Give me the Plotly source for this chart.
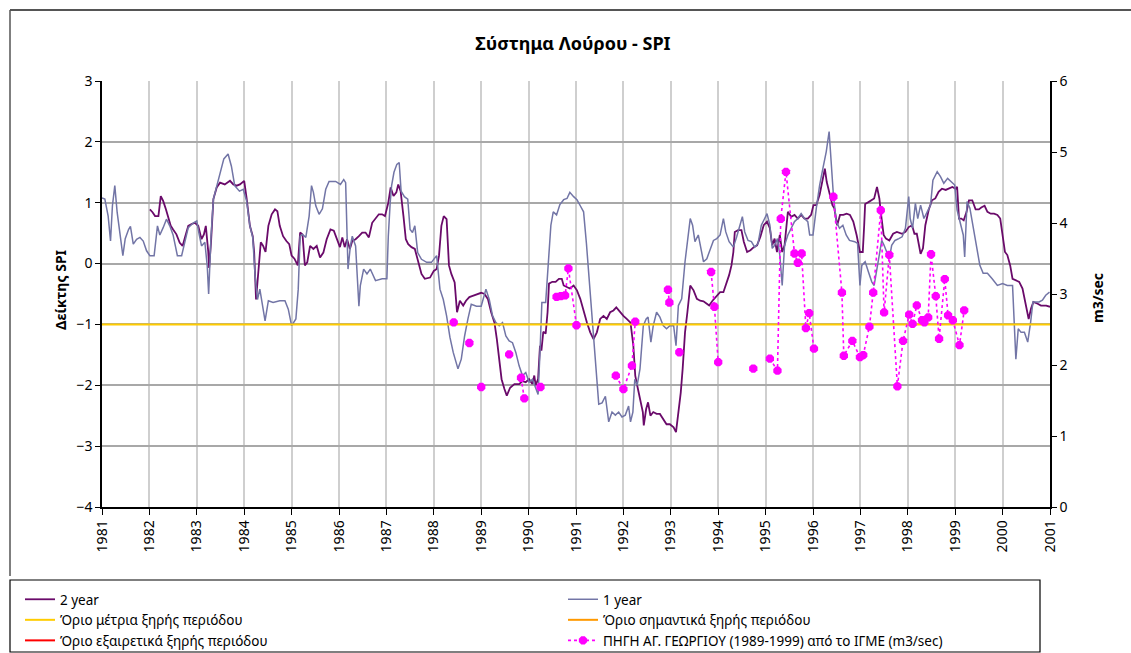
import plotly.graph_objects as go

# ---------------- data ----------------
year1_t = [1981.00,1981.06,1981.13,1981.18,1981.22,1981.27,1981.32,1981.38,1981.44,1981.49,1981.56,1981.60,1981.66,1981.73,1981.80,1981.87,1981.94,
           1982.01,1982.10,1982.17,1982.22,1982.29,1982.36,1982.43,1982.50,1982.59,1982.68,1982.75,1982.82,1982.93,
           1983.00,1983.05,1983.10,1983.17,1983.22,1983.25,1983.30,1983.35,1983.42,1983.49,1983.57,1983.66,1983.73,1983.80,1983.90,1983.98,
           1984.05,1984.12,1984.18,1984.23,1984.28,1984.33,1984.40,1984.44,1984.51,1984.61,1984.75,1984.86,1984.93,
           1985.00,1985.09,1985.14,1985.18,1985.23,1985.30,1985.37,1985.42,1985.46,1985.51,1985.58,1985.65,1985.72,1985.79,1985.93,
           1986.03,1986.10,1986.14,1986.17,1986.19,1986.24,1986.28,1986.35,1986.42,1986.45,1986.52,1986.59,1986.66,1986.77,1986.91,
           1987.01,1987.04,1987.08,1987.11,1987.16,1987.22,1987.27,1987.31,1987.38,1987.45,1987.50,1987.55,1987.60,1987.66,1987.74,1987.85,1987.95,
           1988.06,1988.13,1988.20,1988.27,1988.34,1988.41,1988.51,1988.58,1988.65,1988.72,1988.79,1988.90,
           1989.00,1989.10,1989.17,1989.24,1989.31,1989.38,1989.45,1989.52,1989.59,1989.66,1989.73,1989.80,1989.87,1989.94,
           1990.01,1990.08,1990.15,1990.20,1990.24,1990.28,1990.36,1990.42,1990.47,1990.52,1990.59,1990.66,1990.74,1990.81,1990.87,1990.95,
           1991.02,1991.09,1991.16,1991.22,1991.27,1991.34,1991.41,1991.48,1991.55,1991.62,1991.69,1991.76,1991.83,1991.90,1991.97,
           1992.04,1992.11,1992.15,1992.20,1992.24,1992.29,1992.35,1992.42,1992.48,1992.52,1992.58,1992.63,1992.70,1992.77,1992.84,1992.91,1992.98,
           1993.06,1993.11,1993.16,1993.23,1993.30,1993.35,1993.41,1993.46,1993.51,1993.58,1993.63,1993.69,1993.76,1993.83,1993.90,1993.97,
           1994.04,1994.11,1994.16,1994.23,1994.32,1994.39,1994.46,1994.51,1994.56,1994.63,1994.70,1994.77,1994.84,1994.91,1994.98,
           1995.03,1995.09,1995.14,1995.19,1995.25,1995.30,1995.33,1995.35,1995.40,1995.47,1995.54,1995.61,1995.68,1995.75,1995.82,1995.89,1995.93,
           1996.00,1996.07,1996.14,1996.21,1996.28,1996.34,1996.38,1996.43,1996.49,1996.56,1996.63,1996.70,1996.77,1996.88,1996.94,1996.99,
           1997.03,1997.10,1997.17,1997.24,1997.29,1997.35,1997.42,1997.45,1997.50,1997.56,1997.61,1997.66,1997.73,1997.81,1997.88,1997.95,
           1998.02,1998.05,1998.10,1998.16,1998.21,1998.27,1998.34,1998.41,1998.48,1998.53,1998.62,1998.69,1998.76,1998.84,1998.94,1998.99,
           1999.04,1999.11,1999.17,1999.20,1999.25,1999.31,1999.38,1999.45,1999.52,1999.59,1999.68,1999.78,1999.89,
           2000.00,2000.10,2000.21,2000.24,2000.28,2000.33,2000.39,2000.46,2000.53,2000.59,2000.64,2000.71,2000.77,2000.84,2000.91,2000.99]
year1_v = [1.08,1.06,0.78,0.37,0.95,1.28,0.84,0.45,0.13,0.41,0.56,0.61,0.32,0.40,0.43,0.37,0.21,
           0.13,0.13,0.62,0.47,0.59,0.73,0.62,0.47,0.13,0.13,0.36,0.59,0.67,
           0.70,0.48,0.29,0.35,-0.04,-0.50,0.45,1.06,1.28,1.50,1.72,1.80,1.60,1.28,1.19,1.22,
           1.03,0.62,0.43,-0.20,-0.59,-0.42,-0.78,-0.94,-0.61,-0.64,-0.61,-0.61,-0.75,
           -1.02,-0.91,-0.42,0.45,0.48,0.43,0.78,1.28,1.17,0.95,0.81,0.90,1.22,1.35,1.35,
           1.30,1.38,1.33,0.62,-0.09,0.29,0.45,0.29,-0.70,-0.36,-0.09,-0.17,-0.09,-0.28,-0.25,
           -0.25,0.45,1.00,1.28,1.50,1.63,1.66,1.19,1.10,1.06,0.56,0.51,0.62,0.18,0.07,0.02,0.02,
           0.13,-0.42,-0.59,-0.86,-1.21,-1.46,-1.73,-1.57,-1.19,-0.91,-0.67,-0.70,
           -0.70,-0.42,-0.59,-0.86,-0.97,-1.02,-0.97,-1.19,-1.27,-1.30,-1.46,-1.68,-1.84,-1.79,
           -1.95,-1.90,-2.04,-2.15,-1.46,-0.64,-0.64,0.03,0.63,0.85,0.80,0.97,1.05,1.07,1.17,1.10,
           1.05,0.95,0.85,0.33,-0.19,-1.02,-1.73,-2.31,-2.29,-2.18,-2.60,-2.44,-2.49,-2.44,-2.52,
           -2.49,-2.34,-2.60,-2.44,-1.90,-2.00,-1.73,-1.02,-0.91,-0.88,-1.29,-1.02,-0.80,-0.88,-1.02,-1.07,-1.02,
           -1.02,-1.35,-0.69,-0.58,0.03,0.36,0.74,0.63,0.36,0.47,0.25,0.03,0.08,0.22,0.38,0.41,
           0.47,0.74,0.52,0.36,0.27,0.44,0.63,0.77,0.52,0.38,0.36,0.27,0.33,0.63,0.74,
           0.82,0.63,0.25,0.30,0.41,0.14,-0.19,-0.36,0.30,0.47,0.58,0.69,0.74,0.82,0.74,0.69,0.47,
           0.47,0.91,1.29,1.57,1.84,2.17,1.73,1.13,0.69,0.58,0.63,0.47,0.38,0.36,0.33,-0.36,
           -0.03,0.03,-0.14,-0.30,-0.36,-0.08,0.30,0.38,0.30,0.19,0.08,0.30,0.38,0.41,0.44,0.58,
           1.10,0.74,0.58,0.99,0.74,0.96,0.74,0.85,0.96,1.37,1.51,1.43,1.32,1.40,1.32,1.29,
           0.88,0.63,0.47,0.11,1.02,0.91,0.58,0.25,-0.03,-0.16,-0.16,-0.25,-0.36,
           -0.33,-0.36,-0.36,-1.02,-1.57,-1.07,-1.13,-1.13,-1.29,-0.97,-0.63,-0.63,-0.63,-0.60,-0.52,-0.47]

year2_t = [1982.01,1982.07,1982.12,1982.19,1982.24,1982.29,1982.35,1982.40,1982.45,1982.50,1982.57,1982.64,1982.70,1982.75,1982.82,1982.89,1982.96,
           1983.03,1983.10,1983.15,1983.19,1983.24,1983.26,1983.30,1983.35,1983.42,1983.49,1983.59,1983.70,1983.77,1983.84,1983.91,
           1984.00,1984.05,1984.12,1984.18,1984.21,1984.25,1984.30,1984.35,1984.40,1984.45,1984.51,1984.58,1984.65,1984.70,1984.75,1984.82,1984.89,1984.95,
           1985.00,1985.06,1985.13,1985.18,1985.23,1985.28,1985.33,1985.39,1985.46,1985.53,1985.60,1985.67,1985.74,1985.82,1985.89,1985.96,
           1986.02,1986.07,1986.12,1986.17,1986.23,1986.28,1986.35,1986.42,1986.49,1986.56,1986.63,1986.70,1986.77,1986.84,1986.91,1986.97,
           1987.04,1987.09,1987.15,1987.21,1987.25,1987.30,1987.36,1987.41,1987.46,1987.53,1987.60,1987.67,1987.74,1987.81,1987.92,
           1988.00,1988.06,1988.11,1988.16,1988.21,1988.27,1988.32,1988.37,1988.44,1988.49,1988.55,1988.62,1988.68,1988.75,1988.82,1988.91,
           1989.00,1989.07,1989.14,1989.21,1989.28,1989.33,1989.38,1989.43,1989.49,1989.54,1989.61,1989.70,1989.80,1989.87,1989.94,
           1990.01,1990.08,1990.12,1990.15,1990.20,1990.24,1990.27,1990.31,1990.36,1990.40,1990.43,1990.50,1990.57,1990.64,1990.70,1990.74,1990.81,1990.87,1990.95,
           1991.02,1991.09,1991.16,1991.23,1991.30,1991.37,1991.44,1991.51,1991.58,1991.65,1991.72,1991.79,1991.85,1991.93,
           1992.00,1992.07,1992.15,1992.21,1992.25,1992.29,1992.35,1992.41,1992.43,1992.48,1992.52,1992.57,1992.63,1992.70,1992.77,1992.84,1992.91,1992.98,
           1993.06,1993.11,1993.16,1993.21,1993.25,1993.30,1993.35,1993.41,1993.48,1993.55,1993.62,1993.69,1993.76,1993.81,1993.88,1993.97,
           1994.04,1994.11,1994.16,1994.23,1994.28,1994.32,1994.35,1994.42,1994.49,1994.54,1994.61,1994.68,1994.75,1994.82,1994.89,1994.96,
           1995.03,1995.09,1995.14,1995.19,1995.24,1995.30,1995.35,1995.40,1995.47,1995.54,1995.61,1995.68,1995.75,1995.82,1995.89,1995.96,
           1996.01,1996.07,1996.14,1996.20,1996.25,1996.29,1996.35,1996.41,1996.45,1996.51,1996.57,1996.64,1996.71,1996.78,1996.85,1996.92,1996.99,
           1997.05,1997.08,1997.10,1997.17,1997.24,1997.29,1997.35,1997.40,1997.43,1997.49,1997.54,1997.61,1997.69,1997.77,1997.88,1997.95,
           1998.02,1998.09,1998.14,1998.19,1998.27,1998.32,1998.37,1998.44,1998.51,1998.58,1998.65,1998.72,1998.80,1998.87,1998.94,
           1999.01,1999.04,1999.08,1999.13,1999.18,1999.24,1999.29,1999.36,1999.43,1999.50,1999.55,1999.62,1999.68,1999.75,1999.82,1999.89,1999.95,
           2000.00,2000.05,2000.10,2000.16,2000.21,2000.28,2000.35,2000.42,2000.49,2000.55,2000.60,2000.65,2000.74,2000.81,2000.92,2001.00]
year2_v = [0.89,0.84,0.78,0.78,1.11,1.03,0.89,0.73,0.62,0.56,0.48,0.34,0.29,0.43,0.62,0.65,0.67,
           0.62,0.40,0.48,0.62,0.21,-0.07,0.35,1.06,1.25,1.33,1.30,1.36,1.30,1.28,1.30,
           1.36,1.08,0.62,0.45,0.19,-0.59,-0.14,0.35,0.29,0.19,0.62,0.81,0.89,0.86,0.62,0.45,0.37,0.32,
           0.13,0.08,-0.03,0.51,0.48,-0.03,0.02,0.29,0.24,0.29,0.10,0.18,0.40,0.56,0.54,0.40,
           0.27,0.43,0.27,0.40,0.24,0.37,0.40,0.45,0.51,0.51,0.43,0.67,0.75,0.81,0.81,0.78,
           1.00,1.25,1.11,1.17,1.30,1.19,0.78,0.40,0.32,0.27,0.24,0.02,-0.17,-0.25,-0.23,
           -0.12,-0.09,0.13,0.62,0.78,0.73,-0.03,-0.17,-0.31,-0.80,-0.61,-0.69,-0.61,-0.55,-0.53,-0.50,
           -0.48,-0.50,-0.58,-0.80,-0.97,-1.24,-1.62,-1.90,-2.06,-2.17,-2.04,-1.98,-1.98,-1.93,-1.95,
           -1.90,-1.98,-1.84,-2.00,-1.90,-1.35,-1.43,-1.12,-1.15,-0.80,-0.33,-0.30,-0.30,-0.25,-0.25,-0.36,-0.38,-0.41,-0.36,
           -0.44,-0.58,-0.80,-0.97,-1.13,-1.24,-1.13,-0.91,-0.86,-0.91,-0.80,-0.77,-0.72,-0.80,
           -0.86,-0.91,-0.97,-1.35,-1.84,-2.00,-2.22,-2.44,-2.66,-2.39,-2.28,-2.50,-2.44,-2.47,-2.47,-2.55,-2.64,-2.64,
           -2.69,-2.77,-2.44,-2.12,-1.73,-1.13,-0.80,-0.36,-0.44,-0.58,-0.61,-0.62,-0.66,-0.69,-0.61,-0.53,
           -0.47,-0.47,-0.36,-0.19,-0.03,0.19,0.52,0.55,0.55,0.36,0.19,0.22,0.27,0.30,0.44,0.63,
           0.69,0.58,0.30,0.41,0.19,0.47,0.19,0.30,0.85,0.77,0.80,0.74,0.80,0.74,0.74,0.80,
           0.96,0.96,1.13,1.34,1.56,1.34,1.13,0.96,0.91,0.63,0.80,0.80,0.82,0.80,0.69,0.47,0.19,
           0.19,0.63,0.98,1.01,1.04,1.07,1.26,1.07,0.85,0.47,0.41,0.38,0.49,0.52,0.49,0.52,
           0.60,0.63,0.49,0.49,0.16,0.25,0.63,0.88,1.04,1.07,1.18,1.23,1.21,1.23,1.26,
           1.23,1.26,0.74,0.74,0.71,0.85,1.04,1.04,0.89,0.89,0.92,0.95,0.85,0.82,0.82,0.80,0.74,
           0.47,0.19,0.14,-0.03,-0.25,-0.28,-0.30,-0.41,-0.69,-0.91,-0.74,-0.63,-0.66,-0.69,-0.69,-0.71]

# spring discharge (m3/sec); None marks missing months (breaks in the dotted line)
spring_t = [1988.42, None, 1988.75, None, 1989.00, None, 1989.59, None, 1989.84, 1989.91, None, 1990.25, None,
            1990.59, 1990.68, 1990.77, 1990.84, 1991.01, None,
            1991.84, 1992.00, 1992.18, 1992.25, None, 1992.94, 1992.97, None, 1993.18, None,
            1993.85, 1993.92, 1994.00, None, 1994.74, None,
            1995.09, 1995.25, 1995.32, 1995.43, 1995.61, 1995.68, 1995.76, 1995.85, 1995.92, 1996.02, None,
            1996.43, 1996.61, 1996.65, 1996.83, 1996.99, 1997.06, 1997.19, 1997.27, 1997.43, 1997.50, 1997.61, 1997.78,
            1997.90, 1998.03, 1998.10, 1998.19, 1998.30, 1998.35, 1998.43, 1998.49, 1998.59, 1998.66, 1998.78,
            1998.85, 1998.95, 1999.09, 1999.19]
spring_v = [2.60, None, 2.31, None, 1.69, None, 2.15, None, 1.82, 1.53, None, 1.69, None,
            2.96, 2.97, 2.98, 3.36, 2.56, None,
            1.85, 1.66, 1.99, 2.61, None, 3.06, 2.88, None, 2.18, None,
            3.31, 2.82, 2.04, None, 1.95, None,
            2.09, 1.92, 4.06, 4.72, 3.57, 3.44, 3.57, 2.52, 2.73, 2.23, None,
            4.37, 3.02, 2.13, 2.34, 2.11, 2.14, 2.54, 3.02, 4.18, 2.74, 3.55, 1.70,
            2.34, 2.71, 2.58, 2.84, 2.63, 2.60, 2.67, 3.56, 2.97, 2.37, 3.21,
            2.70, 2.63, 2.28, 2.77]

moderate_limit = -1.0
period = [1981, 2001]
left_ticks = [3, 2, 1, 0, -1, -2, -3, -4]
right_ticks = [0, 1, 2, 3, 4, 5, 6]
year_ticks = list(range(1981, 2002))

# ---------------- figure ----------------
W, H = 1131, 653
L, R, T, B = 102, 1050, 81, 507
FONT = "Noto Sans"

def px(x):
    return (x - L) / (R - L)

def py(y):
    return (B - y) / (B - T)

fig = go.Figure()
fig.add_trace(go.Scatter(x=year2_t, y=year2_v, name="2 year", mode="lines", legend="legend",
                         line=dict(color="#6a0a6a", width=1.8)))
fig.add_trace(go.Scatter(x=year1_t, y=year1_v, name="1 year", mode="lines", legend="legend2",
                         line=dict(color="#7275a6", width=1.5)))
fig.add_trace(go.Scatter(x=period, y=[moderate_limit, moderate_limit], name="Όριο μέτρια ξηρής περιόδου",
                         mode="lines", legend="legend", line=dict(color="#ffcc00", width=2)))
fig.add_trace(go.Scatter(x=[None], y=[None], name="Όριο σημαντικά ξηρής περιόδου",
                         mode="lines", legend="legend2", line=dict(color="#ff9900", width=2)))
fig.add_trace(go.Scatter(x=[None], y=[None], name="Όριο εξαιρετικά ξηρής περιόδου",
                         mode="lines", legend="legend", line=dict(color="#ff0000", width=2)))
fig.add_trace(go.Scatter(x=spring_t, y=spring_v, name="ΠΗΓΗ ΑΓ. ΓΕΩΡΓΙΟΥ (1989-1999) από το ΙΓΜΕ (m3/sec)",
                         mode="lines+markers", yaxis="y2", legend="legend2", connectgaps=False,
                         line=dict(color="#ff00ff", width=1.6, dash="dot"),
                         marker=dict(color="#ff00ff", size=9, symbol="octagon")))

leg_common = dict(orientation="v", xref="container", yref="container", xanchor="left",
                  y=1 - 584 / H, yanchor="top", font=dict(size=13.5), bgcolor="rgba(0,0,0,0)",
                  borderwidth=0, tracegroupgap=0, traceorder="normal", itemwidth=30)

fig.update_layout(
    width=W, height=H,
    margin=dict(l=L, r=W - R, t=T, b=H - B, pad=0, autoexpand=False),
    paper_bgcolor="white", plot_bgcolor="white",
    font=dict(family=FONT, size=14, color="black"),
    title=dict(text="<b>Σύστημα Λούρου - SPI</b>", x=px(573), xref="paper", xanchor="center",
               y=1 - 44 / H, yanchor="middle", font=dict(size=18)),
    xaxis=dict(range=period, tickmode="array", tickvals=year_ticks, ticktext=[str(v) for v in year_ticks],
               tickangle=-90, showgrid=True, gridcolor="#cfcfcf", gridwidth=1.5,
               showline=True, linecolor="black", linewidth=1.5,
               ticks="outside", ticklen=6, tickcolor="black", zeroline=False,
               tickfont=dict(size=14)),
    yaxis=dict(range=[-4, 3], tickmode="array", tickvals=left_ticks, showgrid=True, gridcolor="#a8a8a8",
               gridwidth=1.5, showline=True, linecolor="black", linewidth=1.5, ticks="outside",
               ticklen=5, tickcolor="black", zeroline=False, tickfont=dict(size=14)),
    yaxis2=dict(range=[0, 6], tickmode="array", tickvals=right_ticks, overlaying="y", side="right",
                showgrid=False, showline=True, linecolor="black", linewidth=1.5, ticks="outside",
                ticklen=5, tickcolor="black", zeroline=False, tickfont=dict(size=14)),
    showlegend=True,
    legend=dict(x=20 / W, **leg_common),
    legend2=dict(x=563 / W, **leg_common),
    annotations=[
        dict(text="<b>Δείκτης SPI</b>", xref="paper", yref="paper", x=px(60), y=py(290),
             textangle=-90, showarrow=False, font=dict(size=14), xanchor="center", yanchor="middle"),
        dict(text="<b>m3/sec</b>", xref="paper", yref="paper", x=px(1097), y=py(298),
             textangle=-90, showarrow=False, font=dict(size=14), xanchor="center", yanchor="middle"),
    ],
    shapes=[
        dict(type="line", xref="paper", yref="paper", x0=px(10), x1=px(W + 5), y0=py(10), y1=py(10),
             line=dict(color="#555555", width=2)),
        dict(type="line", xref="paper", yref="paper", x0=px(10), x1=px(10), y0=py(10), y1=py(576),
             line=dict(color="#555555", width=1.5)),
        dict(type="rect", xref="paper", yref="paper", x0=px(10), x1=px(1040), y0=py(580), y1=py(652),
             line=dict(color="black", width=1.2), fillcolor="rgba(0,0,0,0)"),
    ],
)

fig.write_html("out.html", config={"displayModeBar": False},
               post_script="document.body.style.margin='0px';")
